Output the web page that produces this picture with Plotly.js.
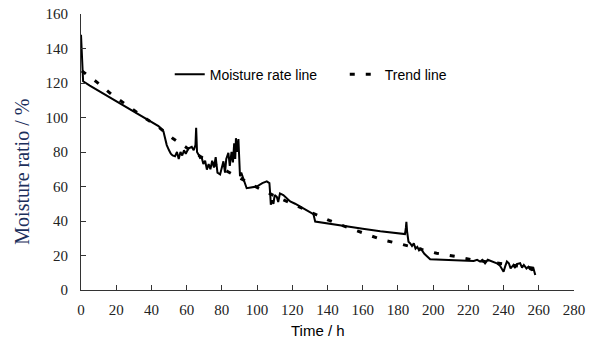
<!DOCTYPE html>
<html>
<head>
<meta charset="utf-8">
<script src="https://cdn.plot.ly/plotly-3.0.1.min.js"></script>
<style>html,body{margin:0;padding:0;background:#fff;}#chart{width:595px;height:348px;}</style>
</head>
<body>
<div id="chart"></div>
<script>
// Moisture rate line (time in h, moisture ratio in %)
const moistureTime = [0,0.3,0.6,0.8,1.2,5,10,15,20,25,30,34.5,40,44,46.8,47.5,48.7,50,51,52,53.4,54.5,55.5,56.5,57.5,58.5,59.5,61,62.9,64,65,65.4,65.9,67,67.6,68.5,69.5,70.5,71.5,72.5,73.5,74.5,75.5,76.5,77.5,79,80,80.9,81.8,82.5,83.7,84.5,85.5,86.3,87,87.6,88,88.6,89.4,90.3,91,92.2,93,94.1,99.8,103,105.5,107,107.5,107.8,108.5,109.3,110,111.2,112,113,114.9,116,118.8,121.6,124.4,128,131,132,133,140,150,160,170,180,184,184.5,184.8,185.2,185.5,186,187,188,189,190,191,192,193,193.6,195,198.3,205,210,215,221,223,225,226.7,228,229.5,231,232.4,234,236.2,238,240,241,241.9,243,244,245.6,246.5,247.5,249.4,250.5,251.5,253,254.1,255,256,257,258];
const moistureValue = [148,140,130,124,121,118.5,115.5,112.5,109.5,106.5,103.6,100.8,97.5,95,92,89,84,81,79,78,77.5,80,76,80,78,81,79,82,83,81,84,94,80,78,76.6,77,73,75,69.8,73,70,75,71,77,68,67,72,74.6,68,76,79.5,72,80,74,85,76,88,80,87.5,66,68,64.4,62,59,60,62,63,62,55,49.4,52,50,55,54,51,56,55,54,51.3,50,48.4,46.5,45,44,39.7,38.5,37,35.5,34,32.6,32.4,36,39.5,34,30,28,27,25.5,27,24,25,23,24,23,21,17.8,17.5,17.5,17.2,17,16.8,17.5,16.5,17.5,15.5,17.5,17,16.3,15.5,14,10.6,14,16.5,15.5,12.5,14.5,12.8,15,15.5,13,14.5,12.5,13.5,12,11.6,12.5,8.7];

// Trend line
const trendTime = [0.5,9,17.4,26,34.5,44,52,60,70,80,90,100,110,120,131,141,151,162,171.4,182.2,190.7,202,212.5,223,235,245,258];
const trendValue = [127,120.5,113.4,107,101,94.5,88,82.5,76,70.5,65,59.5,54.5,50,44.6,40.3,36.4,32.6,29,26.5,24.2,21.3,19.5,17.4,15.8,14.3,12.5];

const xTicks = [0,20,40,60,80,100,120,140,160,180,200,220,240,260,280];
const yTicks = [0,20,40,60,80,100,120,140,160];

const traces = [
  {x: moistureTime, y: moistureValue, type: 'scatter', mode: 'lines', name: 'Moisture rate line',
   line: {color: '#000', width: 2}, legend: 'legend'},
  {x: trendTime, y: trendValue, type: 'scatter', mode: 'lines', name: 'Trend line',
   line: {color: '#000', width: 3, dash: '5px,11px'}, legend: 'legend2'}
];

const tickFont = {family: '"Liberation Serif", "DejaVu Serif", serif', size: 15, color: '#222'};
const legFont = {family: '"Liberation Sans", Arial, sans-serif', size: 14, color: '#000'};

const layout = {
  width: 595, height: 348,
  margin: {l: 81, r: 21, t: 14, b: 58},
  paper_bgcolor: '#fff', plot_bgcolor: '#fff',
  showlegend: true,
  legend: {orientation: 'h', x: 0.18, y: 0.78, xanchor: 'left', yanchor: 'middle',
    font: legFont, bgcolor: 'rgba(0,0,0,0)', itemwidth: 30},
  legend2: {orientation: 'h', x: 0.535, y: 0.78, xanchor: 'left', yanchor: 'middle',
    font: legFont, bgcolor: 'rgba(0,0,0,0)', itemwidth: 30},
  xaxis: {range: [0, 280], tickvals: xTicks, ticktext: xTicks.map(String),
    showgrid: false, zeroline: false, showline: true, linecolor: '#333', linewidth: 1,
    ticks: 'inside', ticklen: 5, tickcolor: '#333', tickfont: tickFont, ticklabelstandoff: 6},
  yaxis: {range: [0, 160], tickvals: yTicks, ticktext: yTicks.map(String),
    showgrid: false, zeroline: false, showline: true, linecolor: '#333', linewidth: 1,
    ticks: 'inside', ticklen: 5, tickcolor: '#333', tickfont: tickFont, ticklabelstandoff: 9},
  annotations: [
    {text: 'Time / h', xref: 'paper', yref: 'paper', x: 0.481, y: -0.145,
     xanchor: 'center', yanchor: 'middle', showarrow: false,
     font: {family: '"Liberation Sans", Arial, sans-serif', size: 15, color: '#000'}},
    {text: 'Moisture ratio / %', xref: 'paper', yref: 'paper', x: -0.12, y: 0.428,
     xanchor: 'center', yanchor: 'middle', showarrow: false, textangle: -90,
     font: {family: '"Liberation Serif", "DejaVu Serif", serif', size: 20, color: '#1c2f5c'}}
  ]
};

Plotly.newPlot('chart', traces, layout, {displayModeBar: false, staticPlot: true});
</script>
</body>
</html>
